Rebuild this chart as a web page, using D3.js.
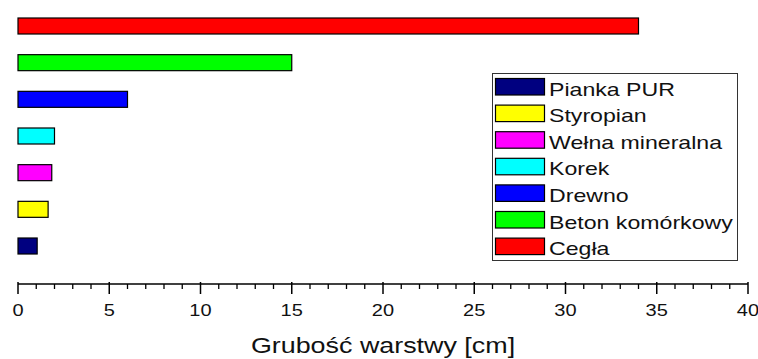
<!DOCTYPE html>
<html>
<head>
<meta charset="utf-8">
<script src="https://cdn.jsdelivr.net/npm/d3@7"></script>
<style>
  html, body { margin: 0; padding: 0; background: #fff; }
  svg { display: block; font-family: "Liberation Sans", Arial, sans-serif; }
</style>
</head>
<body>
<svg id="chart" width="758" height="359"></svg>
<script>
// Materials, listed from the bottom bar to the top bar
const materials = ["Pianka PUR", "Styropian", "Wełna mineralna", "Korek", "Drewno", "Beton komórkowy", "Cegła"];
// Layer thickness in cm
const thickness = [1.05, 1.65, 1.85, 2.0, 6.0, 15.0, 34.0];
const colors = ["#000080", "#ffff00", "#ff00ff", "#00ffff", "#0000ff", "#00ff00", "#ff0000"];
const xTicks = [0, 5, 10, 15, 20, 25, 30, 35, 40];
const xTitle = "Grubość warstwy [cm]";

// Text is drawn slightly widened horizontally
const textStretch = 1.25;
function place(sel, px, py) {
  sel.attr("transform", (d, i) => {
    const X = typeof px === "function" ? px(d, i) : px;
    const Y = typeof py === "function" ? py(d, i) : py;
    return `translate(${X},${Y}) scale(${textStretch},1)`;
  });
}

const svg = d3.select("#chart");

const x = d3.scaleLinear().domain([0, 40]).range([18, 748]);
const y = d3.scalePoint().domain(materials).range([246, 26]);
const barH = 16;
const axisY = 284;

// Bars
svg.append("g")
  .selectAll("rect")
  .data(materials)
  .join("rect")
  .attr("x", x(0))
  .attr("y", d => y(d) - barH / 2)
  .attr("width", (d, i) => x(thickness[i]) - x(0))
  .attr("height", barH)
  .attr("fill", (d, i) => colors[i])
  .attr("stroke", "#000")
  .attr("stroke-width", 1.2);

// Bottom axis: major ticks every 5, minor every 1
const axisG = svg.append("g").attr("transform", `translate(0,${axisY})`);
axisG.append("line")
  .attr("x1", x(0)).attr("x2", x(40))
  .attr("stroke", "#000").attr("stroke-width", 1.5);
axisG.selectAll("line.minor")
  .data(d3.range(0, 41).filter(v => v % 5 !== 0))
  .join("line")
  .attr("class", "minor")
  .attr("x1", d => x(d)).attr("x2", d => x(d))
  .attr("y1", 0).attr("y2", 5)
  .attr("stroke", "#000").attr("stroke-width", 1.3);
axisG.selectAll("line.major")
  .data(xTicks)
  .join("line")
  .attr("class", "major")
  .attr("x1", d => x(d)).attr("x2", d => x(d))
  .attr("y1", -2).attr("y2", 10)
  .attr("stroke", "#000").attr("stroke-width", 1.5);
axisG.selectAll("text")
  .data(xTicks)
  .join("text")
  .call(place, d => x(d), 32)
  .attr("text-anchor", "middle")
  .attr("font-size", 16)
  .attr("fill", "#111")
  .text(d => d);

svg.append("text")
  .call(place, (x(0) + x(40)) / 2, 352.5)
  .attr("text-anchor", "middle")
  .attr("font-size", 21.5)
  .attr("fill", "#111")
  .text(xTitle);

// Legend
const legend = svg.append("g");
legend.append("rect")
  .attr("x", 492.5).attr("y", 73.5)
  .attr("width", 245).attr("height", 187)
  .attr("fill", "#fff")
  .attr("stroke", "#333").attr("stroke-width", 1);
const rowStep = 26.6;
const rows = legend.selectAll("g.row")
  .data(materials)
  .join("g")
  .attr("class", "row")
  .attr("transform", (d, i) => `translate(0,${78.5 + i * rowStep})`);
rows.append("rect")
  .attr("x", 495.5).attr("y", 0)
  .attr("width", 49).attr("height", 16.5)
  .attr("fill", (d, i) => colors[i])
  .attr("stroke", "#000").attr("stroke-width", 1.2);
rows.append("text")
  .call(place, 549, 17)
  .attr("font-size", 18.5)
  .attr("fill", "#111")
  .text(d => d);
</script>
</body>
</html>
